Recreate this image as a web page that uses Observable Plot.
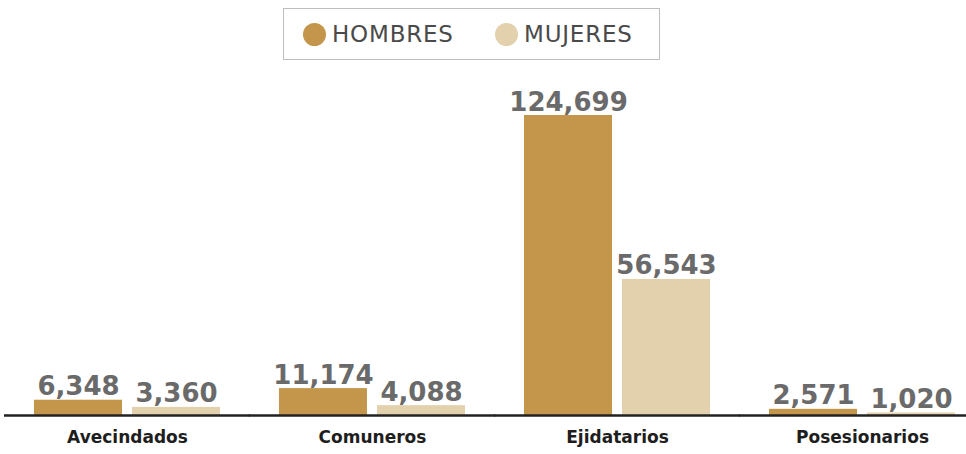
<!DOCTYPE html>
<html>
<head>
<meta charset="utf-8">
<script src="https://cdn.jsdelivr.net/npm/d3@7"></script>
<script src="https://cdn.jsdelivr.net/npm/@observablehq/plot@0.6"></script>
<style>
  html, body { margin: 0; padding: 0; background: #fff; }
  #wrap { width: 966px; }
  #legend { position: relative; width: 966px; height: 70px; }
  #legend .box { position: absolute; left: 283px; top: 8px; width: 375px; height: 50px;
    border: 1.5px solid #bdbdbd; font-family: "DejaVu Sans", sans-serif; font-size: 23px;
    letter-spacing: 0.8px; color: #4a4a4a; }
  #legend .item { position: absolute; top: 0; height: 50px; display: flex; align-items: center; }
  #legend .sw { width: 23px; height: 23px; border-radius: 50%; margin-right: 6px; }
</style>
</head>
<body>
<div id="wrap">
  <div id="legend"><div class="box" id="lbox"></div></div>
  <div id="chart"></div>
</div>
<script>
const categories = ["Avecindados", "Comuneros", "Ejidatarios", "Posesionarios"];
const groups = ["HOMBRES", "MUJERES"];
const hombres = [6348, 11174, 124699, 2571];
const mujeres = [3360, 4088, 56543, 1020];
const colors = ["#C4964B", "#E2D1AC"];

const data = [];
categories.forEach((c, i) => {
  data.push({category: c, group: groups[0], value: hombres[i]});
  data.push({category: c, group: groups[1], value: mujeres[i]});
});

// legend
const lbox = document.getElementById("lbox");
const legendLeft = [19, 211];
groups.forEach((g, i) => {
  const it = document.createElement("div");
  it.className = "item";
  it.style.left = legendLeft[i] + "px";
  it.innerHTML = `<span class="sw" style="background:${colors[i]}"></span><span>${g}</span>`;
  lbox.appendChild(it);
});

const fmt = d3.format(",");
const plot = Plot.plot({
  width: 966,
  height: 384,
  marginTop: 45,
  marginBottom: 39,
  marginLeft: 33,
  marginRight: 10,
  fx: {domain: categories, paddingInner: 0.233, paddingOuter: 0, axis: null},
  x: {domain: groups, paddingInner: 0.1, paddingOuter: 0, axis: null},
  y: {domain: [0, d3.max([...hombres, ...mujeres])], axis: null},
  color: {domain: groups, range: colors},
  marks: [
    Plot.barY(data, {fx: "category", x: "group", y: "value", fill: "group"}),
    Plot.text(data, {fx: "category", x: "group", y: "value", text: d => fmt(d.value),
      lineAnchor: "bottom", dy: -5, fill: "#6a6a6a", fontSize: 26, fontWeight: "bold",
      fontFamily: "DejaVu Sans, sans-serif"}),
    Plot.ruleY([0], {stroke: "#222", strokeWidth: 2.5, insetLeft: -29, insetRight: -29}),
    Plot.text(categories, {fx: d => d, text: d => d, frameAnchor: "bottom", dy: 27,
      fill: "#1e1e1e", fontSize: 17, fontWeight: "bold", fontFamily: "DejaVu Sans, sans-serif"})
  ]
});
document.getElementById("chart").appendChild(plot);
</script>
</body>
</html>
